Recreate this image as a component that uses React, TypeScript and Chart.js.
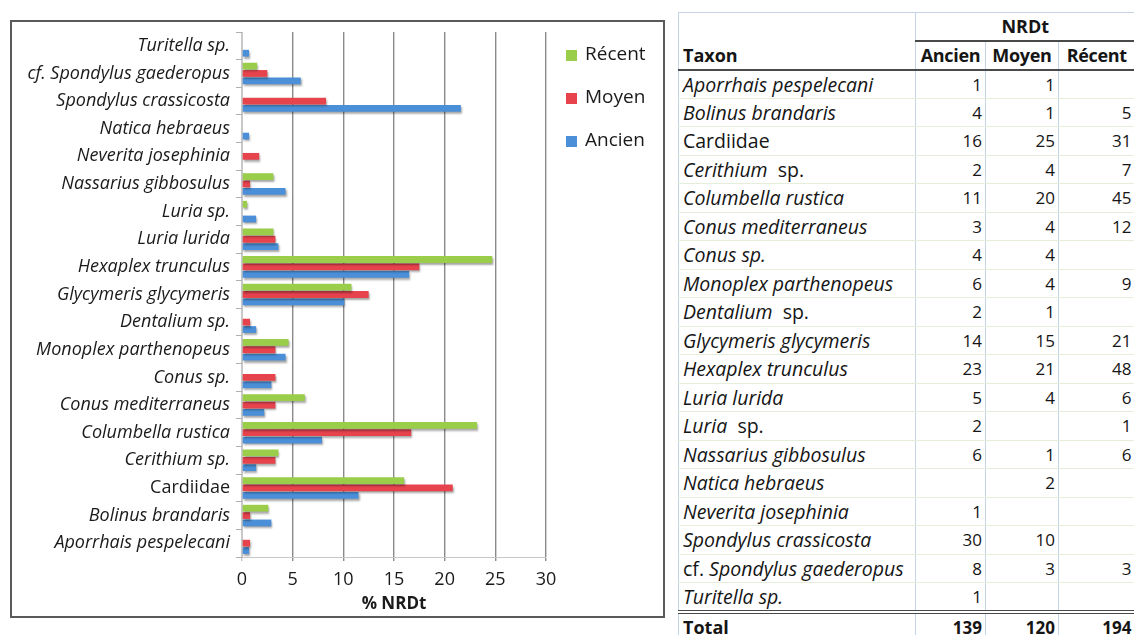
import React, { useEffect, useRef } from 'react';
import { Chart, registerables } from 'chart.js';

Chart.register(...registerables);

// ---------- Chart data (% NRDt) ----------
const categories = [
  'Turitella sp.',
  'cf. Spondylus gaederopus',
  'Spondylus crassicosta',
  'Natica hebraeus',
  'Neverita josephinia',
  'Nassarius gibbosulus',
  'Luria sp.',
  'Luria lurida',
  'Hexaplex trunculus',
  'Glycymeris glycymeris',
  'Dentalium sp.',
  'Monoplex parthenopeus',
  'Conus sp.',
  'Conus mediterraneus',
  'Columbella rustica',
  'Cerithium sp.',
  'Cardiidae',
  'Bolinus brandaris',
  'Aporrhais pespelecani',
];
const seriesLabels = ['Récent', 'Moyen', 'Ancien'];
const recentPct = [0, 1.5, 0, 0, 0, 3.1, 0.5, 3.1, 24.7, 10.8, 0, 4.6, 0, 6.2, 23.2, 3.6, 16.0, 2.6, 0];
const moyenPct = [0, 2.5, 8.3, 0, 1.7, 0.8, 0, 3.3, 17.5, 12.5, 0.8, 3.3, 3.3, 3.3, 16.7, 3.3, 20.8, 0.8, 0.8];
const ancienPct = [0.7, 5.8, 21.6, 0.7, 0, 4.3, 1.4, 3.6, 16.5, 10.1, 1.4, 4.3, 2.9, 2.2, 7.9, 1.4, 11.5, 2.9, 0.7];
const xTicks = [0, 5, 10, 15, 20, 25, 30];
const xTitle = '% NRDt';

// ---------- Table data (NRDt counts) ----------
const tableTaxa = [
  'Aporrhais pespelecani',
  'Bolinus brandaris',
  'Cardiidae',
  'Cerithium  sp.',
  'Columbella rustica',
  'Conus mediterraneus',
  'Conus sp.',
  'Monoplex parthenopeus',
  'Dentalium  sp.',
  'Glycymeris glycymeris',
  'Hexaplex trunculus',
  'Luria lurida',
  'Luria  sp.',
  'Nassarius gibbosulus',
  'Natica hebraeus',
  'Neverita josephinia',
  'Spondylus crassicosta',
  'cf. Spondylus gaederopus',
  'Turitella sp.',
];
const ancienN: (number | null)[] = [1, 4, 16, 2, 11, 3, 4, 6, 2, 14, 23, 5, 2, 6, null, 1, 30, 8, 1];
const moyenN: (number | null)[] = [1, 1, 25, 4, 20, 4, 4, 4, 1, 15, 21, 4, null, 1, 2, null, 10, 3, null];
const recentN: (number | null)[] = [null, 5, 31, 7, 45, 12, null, 9, null, 21, 48, 6, 1, 6, null, null, null, 3, null];
const totals = [139, 120, 194];
const tableHeader = ['Taxon', 'Ancien', 'Moyen', 'Récent'];

const COLORS = ['#9acd4a', '#e6434d', '#4b8fd8'];
const FONT = '"Open Sans", Lato, sans-serif';

const shadowPlugin = {
  id: 'barShadow',
  beforeDatasetsDraw(chart: any) {
    const c = chart.ctx;
    c.save();
    c.shadowColor = 'rgba(0,0,0,0.35)';
    c.shadowBlur = 2;
    c.shadowOffsetX = 1;
    c.shadowOffsetY = 2;
  },
  afterDatasetsDraw(chart: any) {
    chart.ctx.restore();
  },
};

const sideLegend = {
  id: 'sideLegend',
  afterDraw(chart: any) {
    const { ctx, chartArea } = chart;
    ctx.save();
    ctx.font = `19px ${FONT}`;
    ctx.textBaseline = 'middle';
    ctx.textAlign = 'left';
    chart.data.datasets.forEach((ds: any, i: number) => {
      const y = chartArea.top + 23 + i * 43;
      const x = chartArea.right + 20;
      ctx.fillStyle = ds.backgroundColor;
      ctx.fillRect(x, y - 5, 11, 11);
      ctx.fillStyle = '#1a1a1a';
      ctx.fillText(ds.label, x + 19, y);
    });
    ctx.restore();
  },
};

function BarChart() {
  const ref = useRef<HTMLCanvasElement>(null);
  useEffect(() => {
    if (!ref.current) return;
    const chart = new Chart(ref.current, {
      type: 'bar',
      data: {
        labels: categories,
        datasets: [
          { label: seriesLabels[0], data: recentPct, backgroundColor: COLORS[0] },
          { label: seriesLabels[1], data: moyenPct, backgroundColor: COLORS[1] },
          { label: seriesLabels[2], data: ancienPct, backgroundColor: COLORS[2] },
        ],
      },
      options: {
        indexAxis: 'y',
        animation: false,
        responsive: false,
        maintainAspectRatio: false,
        datasets: { bar: { categoryPercentage: 0.8, barPercentage: 0.92 } },
        layout: { padding: { top: 10, right: 117, left: 0, bottom: 0 } },
        plugins: { legend: { display: false }, tooltip: { enabled: false } },
        scales: {
          x: {
            min: 0,
            max: 30,
            afterBuildTicks: (scale: any) => {
              scale.ticks = xTicks.map((v) => ({ value: v }));
            },
            afterFit: (scale: any) => {
              scale.height = 59;
            },
            grid: {
              color: (ctx: any) => (ctx.index === 0 ? '#c8c8c8' : '#8a8a8a'),
              lineWidth: 1.4,
              tickLength: 4,
            },
            border: { display: true, color: '#c8c8c8', width: 1 },
            ticks: {
              font: { family: FONT, size: 18 },
              color: '#1a1a1a',
              padding: 8,
              maxRotation: 0,
            },
            title: {
              display: true,
              text: xTitle,
              font: { family: FONT, size: 17, weight: 'bold' },
              color: '#1a1a1a',
              padding: { top: 0, bottom: 2 },
            },
          },
          y: {
            afterFit: (scale: any) => {
              scale.width = 230;
              scale.paddingTop = 0;
              scale.paddingBottom = 0;
            },
            grid: {
              drawOnChartArea: false,
              drawTicks: true,
              tickLength: 6,
              color: '#b0b0b0',
            },
            border: { display: true, color: '#c8c8c8', width: 1 },
            ticks: {
              autoSkip: false,
              padding: 6,
              color: '#1a1a1a',
              font: (ctx: any) => ({
                family: FONT,
                size: 18,
                style: categories[ctx.index] === 'Cardiidae' ? 'normal' : 'italic',
              }),
            },
          },
        },
      },
      plugins: [shadowPlugin, sideLegend],
    } as any);
    return () => chart.destroy();
  }, []);
  return <canvas ref={ref} width={651} height={594} style={{ width: 651, height: 594, display: 'block' }} />;
}

function TaxonName({ name }: { name: string }) {
  if (name === 'Cardiidae') return <span>{name}</span>;
  if (name.startsWith('cf. ')) {
    return (
      <span>
        cf. <i>{name.slice(4)}</i>
      </span>
    );
  }
  if (name.includes('  sp.')) {
    const genus = name.split('  ')[0];
    return (
      <span>
        <i>{genus}</i>
        {'\u00a0 sp.'}
      </span>
    );
  }
  return <i>{name}</i>;
}

const LB = '1px solid #c3d3e8';
const ROW_LINE = '1px solid #e4eed8';
const DARK = '2px solid #4a4a4a';

function DataTable() {
  const cellBase: React.CSSProperties = { padding: 0, whiteSpace: 'nowrap', overflow: 'hidden' };
  return (
    <table
      style={{
        position: 'absolute',
        left: 678,
        top: 12,
        width: 456,
        borderCollapse: 'collapse',
        tableLayout: 'fixed',
        fontFamily: FONT,
        fontSize: 18,
        color: '#151515',
        borderTop: LB,
        borderLeft: LB,
      }}
    >
      <colgroup>
        <col style={{ width: 237 }} />
        <col style={{ width: 70 }} />
        <col style={{ width: 73 }} />
        <col style={{ width: 76 }} />
      </colgroup>
      <tbody>
        <tr style={{ height: 28 }}>
          <td style={cellBase}></td>
          <td colSpan={3} style={{ ...cellBase, textAlign: 'center', fontWeight: 'bold', borderLeft: LB, borderBottom: DARK }}>
            NRDt
          </td>
        </tr>
        <tr style={{ height: 29 }}>
          {tableHeader.map((h, i) => (
            <td
              key={h}
              style={{
                ...cellBase,
                fontWeight: 'bold',
                textAlign: i === 0 ? 'left' : 'center',
                paddingLeft: i === 0 ? 4 : 0,
                borderLeft: i === 0 ? undefined : LB,
                borderBottom: DARK,
                letterSpacing: i === 0 ? 0 : -0.3,
              }}
            >
              {h}
            </td>
          ))}
        </tr>
        {tableTaxa.map((t, r) => {
          const last = r === tableTaxa.length - 1;
          const bottom = last ? '4px double #4a4a4a' : ROW_LINE;
          const vals = [ancienN[r], moyenN[r], recentN[r]];
          return (
            <tr key={t} style={{ height: 28.5 }}>
              <td style={{ ...cellBase, paddingLeft: 4, borderBottom: bottom, fontSize: 19.5 }}>
                <TaxonName name={t} />
              </td>
              {vals.map((v, k) => (
                <td
                  key={k}
                  style={{ ...cellBase, textAlign: 'right', paddingRight: 3, borderLeft: LB, borderBottom: bottom, fontSize: 17 }}
                >
                  {v === null ? '' : String(v)}
                </td>
              ))}
            </tr>
          );
        })}
        <tr style={{ height: 28 }}>
          <td style={{ ...cellBase, paddingLeft: 4, fontWeight: 'bold' }}>Total</td>
          {totals.map((v, k) => (
            <td
              key={k}
              style={{ ...cellBase, textAlign: 'right', paddingRight: 3, borderLeft: LB, fontWeight: 'bold', fontSize: 17 }}
            >
              {v}
            </td>
          ))}
        </tr>
      </tbody>
    </table>
  );
}

export default function App() {
  return (
    <div style={{ position: 'absolute', left: 0, top: 0, width: 1134, height: 635, background: '#fff', overflow: 'hidden' }}>
      <div
        style={{
          position: 'absolute',
          left: 10,
          top: 20,
          width: 651,
          height: 594,
          border: '2px solid #5a5a5a',
        }}
      >
        <BarChart />
      </div>
      <DataTable />
    </div>
  );
}
